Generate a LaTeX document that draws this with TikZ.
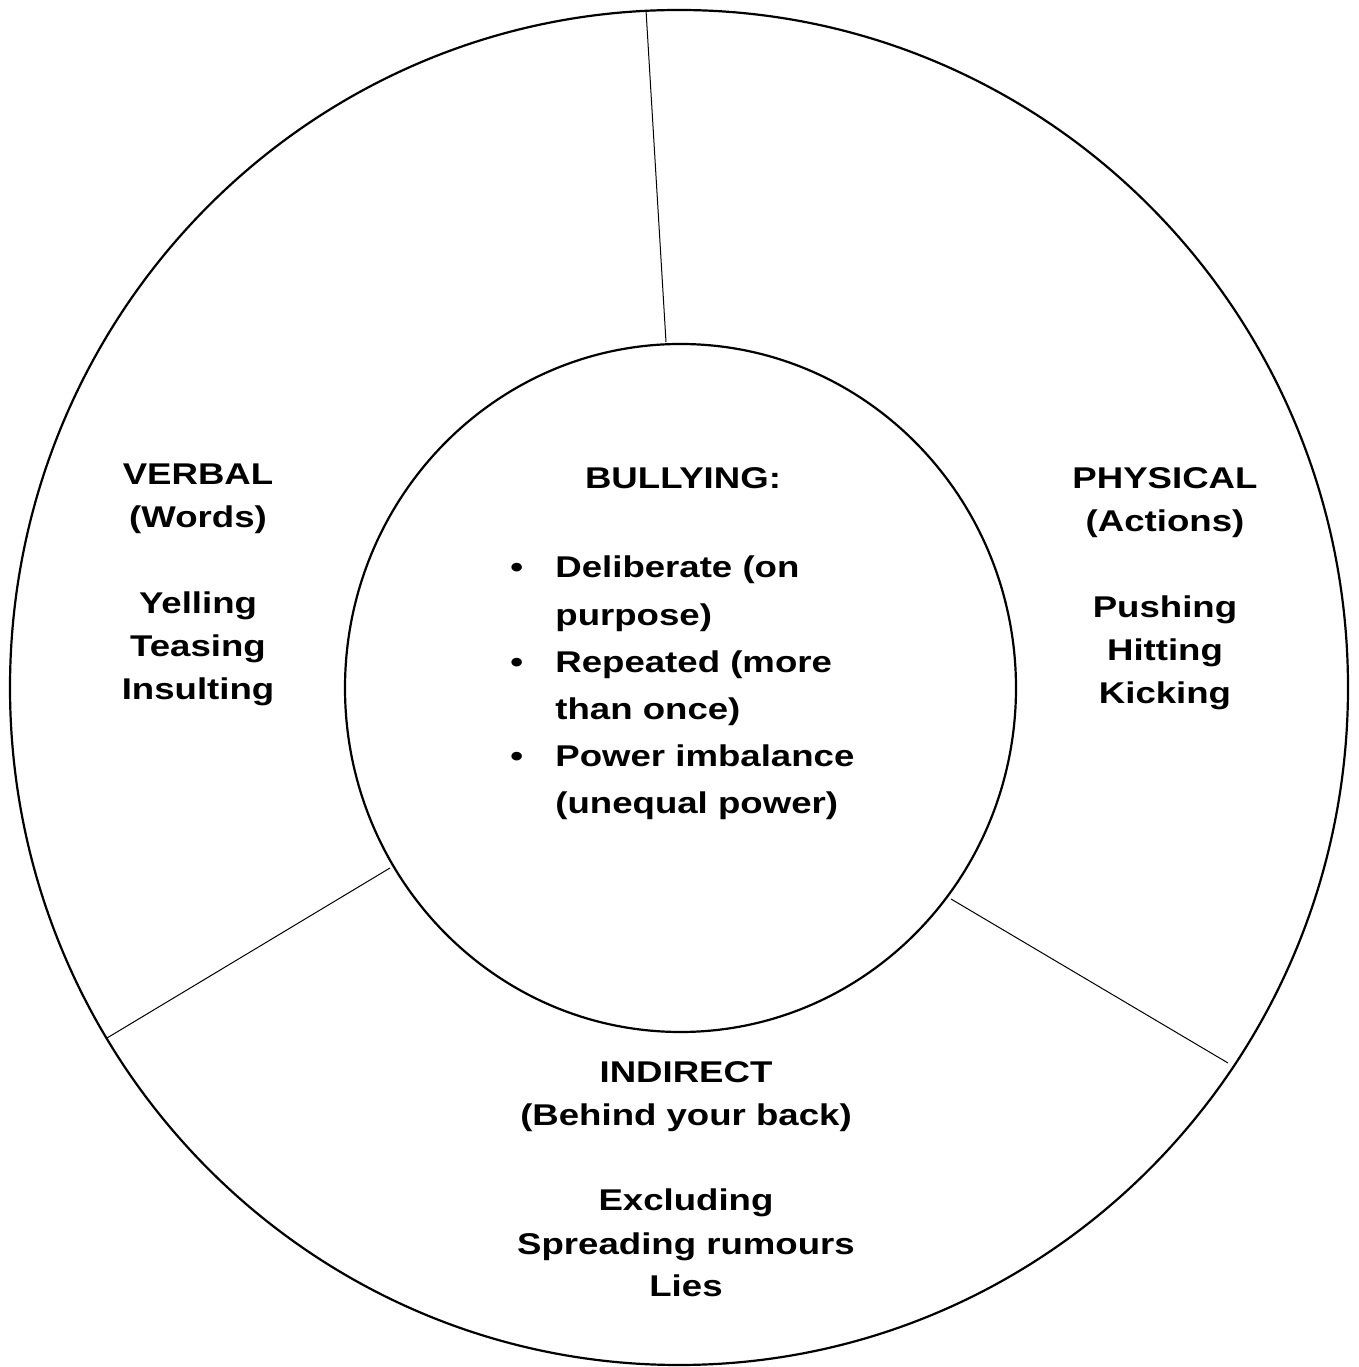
\documentclass[tikz,border=0pt]{standalone}
\usepackage{fontspec}
\newfontfamily\wheelfont{Liberation Sans}[FakeStretch=1.22]
\newcommand\wheelbullet{\makebox[22.5pt][l]{\textbullet}}
\newcommand\wheelindent{\hspace*{22.5pt}}

\tikzset{
  ring/.style={line width=1.1pt},
  spoke/.style={line width=0.5pt},
  kind/.style={align=center, anchor=base, inner sep=0pt,
    font=\wheelfont\bfseries\fontsize{15}{21.5}\selectfont},
  traits/.style={align=left, anchor=base west, inner sep=0pt,
    font=\wheelfont\bfseries\fontsize{15}{23.6}\selectfont},
}

\begin{document}
\begin{tikzpicture}[x=0.5pt,y=0.5pt]
\useasboundingbox (0,0) rectangle (1359,1367);
\coordinate (outer) at (679,679.5);
\coordinate (inner) at (680.5,679);
\draw[ring] (outer) ellipse [x radius=669, y radius=677.5];
\draw[ring] (inner) ellipse [x radius=335.5, y radius=344];

% spokes between the rings
\coordinate (top in) at (666,1025);
\coordinate (top out) at (646,1357);
\coordinate (left in) at (390,499);
\coordinate (left out) at (107,329);
\coordinate (right in) at (951,468);
\coordinate (right out) at (1228,304);
\draw[spoke] (top in) -- (top out);
\draw[spoke] (left in) -- (left out);
\draw[spoke] (right in) -- (right out);

% base of a block = baseline of its last line
\node[kind] (verbal) at (198,667)
  {VERBAL\\(Words)\\[21.5pt]Yelling\\Teasing\\Insulting};
\node[kind] (physical) at (1165,663)
  {PHYSICAL\\(Actions)\\[21.5pt]Pushing\\Hitting\\Kicking};
\node[kind] (indirect) at (686,70)
  {INDIRECT\\(Behind your back)\\[21.5pt]Excluding\\Spreading rumours\\Lies};

\node[kind] (bullying) at (683,878) {BULLYING:};
\node[traits] (traits) at (510,553)
  {\wheelbullet Deliberate (on\\\wheelindent purpose)\\
   \wheelbullet Repeated (more\\\wheelindent than once)\\
   \wheelbullet Power imbalance\\\wheelindent (unequal power)};
\end{tikzpicture}
\end{document}
